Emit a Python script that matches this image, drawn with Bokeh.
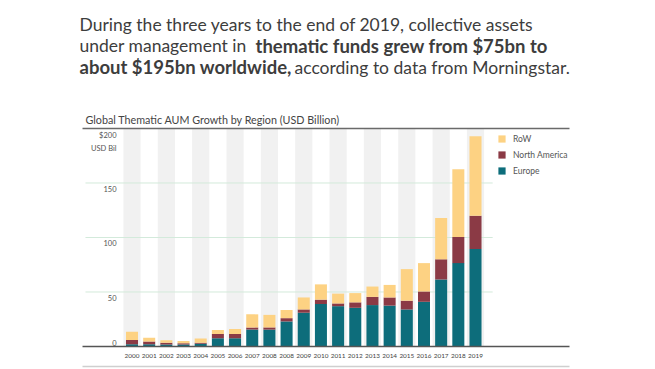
from bokeh.plotting import figure
from bokeh.models import ColumnDataSource, Range1d, Label, Legend, LegendItem
from bokeh.core.properties import value
from bokeh.embed import file_html
from bokeh.resources import INLINE

# ---------------- data ----------------
years = ["2000", "2001", "2002", "2003", "2004", "2005", "2006", "2007", "2008", "2008",
         "2009", "2010", "2011", "2012", "2013", "2014", "2015", "2016", "2017", "2018", "2019"]
europe = [2, 2, 1.8, 1.8, 2.5, 7.5, 7.5, 15.5, 15.5, 23, 31, 39, 37, 35.5, 38, 37.5, 34, 41, 61.5, 76.5, 89.5]
north_america = [4, 2.5, 1.6, 1.2, 1.0, 4, 4, 2, 2, 3, 3, 4, 2.5, 5, 7.5, 7.5, 8, 9.5, 18.5, 24, 30.5]
rest_of_world = [7.5, 3.5, 2.4, 2, 3.8, 3.7, 4.5, 12, 11.5, 7.5, 11, 14, 9, 8.5, 9.5, 11.5, 29, 26, 38, 62, 73]
series_names = ["Europe", "North America", "RoW"]
grid_values = [50, 100, 150]
ytick_values = [50, 100, 150, 200]
ytick_labels = ["50", "100", "150", "$200\nUSD Bil"]
y_max = 200

# ---------------- style / geometry ----------------
FONT = "Lato"
COLORS = ["#0d6d7b", "#8b3a45", "#fdd283"]
TXT = "#3d3d3d"
SUB = "#555555"

W, H = 655, 369
RULE_X0, RULE_X1 = -2.882, 25.473        # extent of the horizontal rules (data x)
GRID_X0, GRID_X1 = -2.71, 21.0
BOTTOM_RULE_Y = -18.35

idx = list(range(len(years)))
src = ColumnDataSource(dict(x=idx, europe=europe, north_america=north_america, row=rest_of_world))

p = figure(width=W, height=H, output_backend="svg", toolbar_location=None,
           x_range=Range1d(-7.657, 30.480), y_range=Range1d(-21.101, 317.431),
           min_border_left=0, min_border_right=0, min_border_top=0, min_border_bottom=0,
           x_axis_location=None, y_axis_location=None)
p.outline_line_color = None
p.xgrid.visible = False
p.ygrid.visible = False
p.background_fill_color = "white"
p.border_fill_color = "white"

# alternating background bands
band_x = [i for i in idx if i % 2 == 0]
p.vbar(x=band_x, bottom=0, top=y_max, width=1.0, fill_color="#f1f1f1", line_color=None)

# horizontal gridlines
p.segment(x0=GRID_X0, x1=GRID_X1, y0=grid_values, y1=grid_values, line_color="#d3eadb", line_width=1)

# stacked bars
rs = p.vbar_stack(["europe", "north_america", "row"], x="x", width=0.7, color=COLORS,
                  line_width=0, source=src)

# top rule, baseline, bottom rule
p.segment(x0=RULE_X0, x1=RULE_X1, y0=y_max, y1=y_max, line_color="#6a6a6a", line_width=1.5)
p.segment(x0=RULE_X0, x1=RULE_X1, y0=0, y1=0, line_color="#555555", line_width=1.5)
p.segment(x0=RULE_X0, x1=RULE_X1, y0=BOTTOM_RULE_Y, y1=BOTTOM_RULE_Y, line_color="#cfcfcf", line_width=1.5)

# y tick labels (inside the plot)
p.text(x=RULE_X0, y=ytick_values, text=ytick_labels, x_offset=34, y_offset=3,
       text_align="right", text_baseline="top", text_font=value(FONT),
       text_font_size="7.5px", text_color=SUB, text_line_height=1.4)
p.text(x=RULE_X0, y=[0], text=["0"], x_offset=34, y_offset=-3.5,
       text_align="right", text_baseline="alphabetic", text_font=value(FONT),
       text_font_size="7.5px", text_color=SUB)

# x tick labels (year categories)
p.text(x=idx, y=[0] * len(idx), text=years, y_offset=10,
       text_align="center", text_baseline="middle", text_font=value(FONT),
       text_font_size="6.4px", text_color="#444444")

# legend
legend = Legend(items=[LegendItem(label=series_names[2], renderers=[rs[2]]),
                       LegendItem(label=series_names[1], renderers=[rs[1]]),
                       LegendItem(label=series_names[0], renderers=[rs[0]])],
                location=(497, 193.5), glyph_width=9, glyph_height=9, label_height=9,
                spacing=6, padding=0, margin=0, label_standoff=7,
                border_line_color=None, background_fill_alpha=0,
                label_text_font=FONT, label_text_font_size="8.5px", label_text_color=SUB)
p.add_layout(legend)


def lab(text, xp, yp, size="17.5px", bold=False, color=TXT):
    p.add_layout(Label(x=xp, y=H - yp, x_units="screen", y_units="screen", text=text,
                       text_font=FONT, text_font_size=size,
                       text_font_style="bold" if bold else "normal",
                       text_color=color, text_baseline="alphabetic", text_align="left"))


lab("During the three years to the end of 2019, collective assets", 79, 23.5)
lab("under management in", 79, 45)
lab("thematic funds grew from $75bn to", 255, 45, size="18.5px", bold=True)
lab("about $195bn worldwide,", 79, 66.5, size="18.5px", bold=True)
lab("according to data from Morningstar.", 294, 66.5)
lab("Global Thematic AUM Growth by Region (USD Billion)", 85, 119, size="10.75px", color="#444444")

open("out.html", "w").write(file_html(p, INLINE))
